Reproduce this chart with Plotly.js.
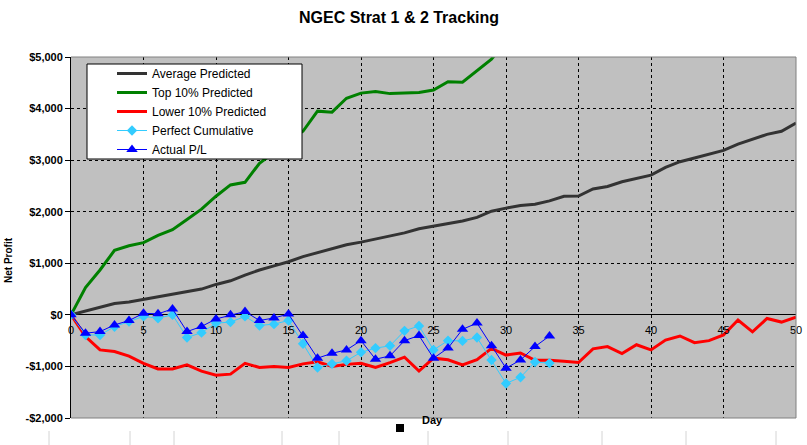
<!DOCTYPE html>
<html>
<head>
<meta charset="utf-8">
<script src="https://cdn.plot.ly/plotly-3.0.1.min.js"></script>
<style>
  html, body { margin: 0; padding: 0; background: #fff; }
  #chart { width: 807px; height: 445px; }
</style>
</head>
<body>
<div id="chart"></div>
<script>
var days = [0, 1, 2, 3, 4, 5, 6, 7, 8, 9, 10, 11, 12, 13, 14, 15, 16, 17, 18, 19, 20,
  21, 22, 23, 24, 25, 26, 27, 28, 29, 30, 31, 32, 33, 34, 35, 36, 37, 38, 39, 40,
  41, 42, 43, 44, 45, 46, 47, 48, 49, 50];

var averagePredicted = [0, 75, 150, 220, 250, 300, 350, 410, 450, 500, 590, 660, 770, 870, 950,
  1030, 1130, 1210, 1280, 1360, 1410, 1470, 1540, 1590, 1670, 1720, 1770, 1820, 1890, 2010, 2070,
  2120, 2145, 2210, 2300, 2305, 2440, 2490, 2580, 2640, 2710, 2860, 2970, 3040, 3110, 3190, 3310,
  3400, 3500, 3560, 3720];

// runs off the top of the chart after day 29
var top10Predicted = [0, 530, 870, 1250, 1340, 1400, 1540, 1650, 1850, 2050, 2300, 2520, 2570,
  2940, 3150, 3380, 3560, 3950, 3930, 4200, 4300, 4330, 4290, 4300, 4310, 4360, 4520, 4510, 4740,
  4960, 5300];

var lower10Predicted = [0, -420, -680, -710, -800, -940, -1050, -1050, -970, -1090, -1170, -1150,
  -940, -1020, -1000, -1020, -950, -910, -1000, -960, -940, -1020, -925, -820, -1090, -840, -870,
  -970, -870, -650, -780, -740, -880, -880, -900, -925, -660, -615, -750, -580, -680, -490, -410,
  -540, -500, -390, -100, -330, -70, -140, -45];

var perfectCumulative = [0, -390, -390, -230, -130, -30, -65, 0, -440, -345, -160, -140, -30, -205,
  -180, -110, -560, -1020, -950, -890, -725, -645, -600, -310, -215, -680, -500, -505, -440, -875,
  -1330, -1210, -915, -935];

var actualPL = [0, -355, -325, -195, -110, 30, 20, 115, -325, -225, -80, 0, 65, -110, -60, 15,
  -400, -840, -745, -680, -500, -860, -795, -500, -400, -840, -645, -280, -160, -600, -1035, -875,
  -615, -410];

var dayTicks = [0, 5, 10, 15, 20, 25, 30, 35, 40, 45, 50];
var profitTicks = [-2000, -1000, 0, 1000, 2000, 3000, 4000, 5000];
var profitLabels = ['-$2,000', '-$1,000', '$0', '$1,000', '$2,000', '$3,000', '$4,000', '$5,000'];

// spreadsheet column edges showing under the chart
var cellEdges = [49, 130, 174, 282, 339, 428, 508, 602, 686, 776];

var W = 807, H = 445;
var M = { l: 71, r: 11, t: 57, b: 27 };
var pw = W - M.l - M.r, ph = H - M.t - M.b;
function px(x) { return (x - M.l) / pw; }
function py(y) { return (H - M.b - y) / ph; }

var FONT = 'Arial, "Liberation Sans", sans-serif';

var traces = [
  {
    name: 'Average Predicted', x: days, y: averagePredicted, mode: 'lines',
    line: { color: '#333333', width: 3 }
  },
  {
    name: 'Top 10% Predicted', x: days.slice(0, top10Predicted.length), y: top10Predicted, mode: 'lines',
    line: { color: '#008000', width: 3 }
  },
  {
    name: 'Lower 10% Predicted', x: days, y: lower10Predicted, mode: 'lines',
    line: { color: '#ff0000', width: 3 }
  },
  {
    name: 'Perfect Cumulative', x: days.slice(0, perfectCumulative.length), y: perfectCumulative,
    mode: 'lines+markers',
    line: { color: '#33ccff', width: 1 },
    marker: { symbol: 'diamond', size: 8, color: '#33ccff' }
  },
  {
    name: 'Actual P/L', x: days.slice(0, actualPL.length), y: actualPL, mode: 'lines+markers',
    line: { color: '#0000ff', width: 1 },
    marker: { symbol: 'triangle-up', size: 10, color: '#0000ff' }
  }
];

var shapes = [
  // legend box (legend itself is transparent on top)
  {
    type: 'rect', xref: 'paper', yref: 'paper', layer: 'above',
    x0: px(87), x1: px(302), y0: py(159), y1: py(64),
    fillcolor: '#ffffff', line: { color: '#000000', width: 1 }
  },
  // gray frame top/right/bottom
  {
    type: 'path', xref: 'paper', yref: 'paper', layer: 'above',
    path: 'M0,1 L1,1 L1,0 L0,0',
    line: { color: '#808080', width: 1 }
  },
  {
    type: 'rect', xref: 'paper', yref: 'paper',
    x0: px(396), x1: px(404), y0: py(432), y1: py(424),
    fillcolor: '#000000', line: { width: 0 }
  }
];
cellEdges.forEach(function (x) {
  shapes.push({
    type: 'line', xref: 'paper', yref: 'paper',
    x0: px(x), x1: px(x), y0: py(431), y1: py(445),
    line: { color: '#d4d4d4', width: 1 }
  });
});

var layout = {
  width: W, height: H,
  margin: { l: M.l, r: M.r, t: M.t, b: M.b, pad: 0 },
  paper_bgcolor: '#ffffff',
  plot_bgcolor: '#c0c0c0',
  font: { family: FONT, color: '#000000' },
  showlegend: true,
  title: {
    text: 'NGEC Strat 1 & 2 Tracking',
    font: { family: FONT, size: 16, weight: 700, color: '#000000' },
    x: 399 / W, xanchor: 'center',
    y: 1 - 17 / H, yanchor: 'middle', yref: 'container'
  },
  xaxis: {
    range: [0, 50],
    tickvals: dayTicks,
    showgrid: true, gridcolor: '#000000', gridwidth: 1, griddash: '3px,3px',
    zeroline: false, showline: false,
    ticks: '', ticklabelstandoff: 7,
    anchor: 'free', position: 2 / 7,
    tickfont: { family: FONT, size: 11, color: '#000000' },
    fixedrange: true
  },
  yaxis: {
    range: [-2000, 5000],
    tickvals: profitTicks, ticktext: profitLabels,
    showgrid: true, gridcolor: '#000000', gridwidth: 1, griddash: '3px,3px',
    zeroline: true, zerolinecolor: '#000000', zerolinewidth: 1,
    showline: true, linecolor: '#000000', linewidth: 1,
    ticks: 'outside', ticklen: 5, tickcolor: '#000000',
    tickfont: { family: FONT, size: 11, weight: 700, color: '#000000' },
    fixedrange: true
  },
  legend: {
    x: px(112), y: py(59), xanchor: 'left', yanchor: 'top',
    bgcolor: 'rgba(0,0,0,0)', borderwidth: 0,
    font: { family: FONT, size: 12, color: '#000000' },
    traceorder: 'normal'
  },
  annotations: [
    {
      text: 'Net Profit', xref: 'paper', yref: 'paper',
      x: px(8), y: py(260), textangle: -90, showarrow: false,
      xanchor: 'center', yanchor: 'middle',
      font: { family: FONT, size: 10, weight: 700, color: '#000000' }
    },
    {
      text: 'Day', xref: 'paper', yref: 'paper',
      x: px(432), y: py(420), showarrow: false,
      xanchor: 'center', yanchor: 'middle',
      font: { family: FONT, size: 11, weight: 700, color: '#000000' }
    }
  ],
  shapes: shapes
};

Plotly.newPlot('chart', traces, layout, { displayModeBar: false, staticPlot: true });
</script>
</body>
</html>
